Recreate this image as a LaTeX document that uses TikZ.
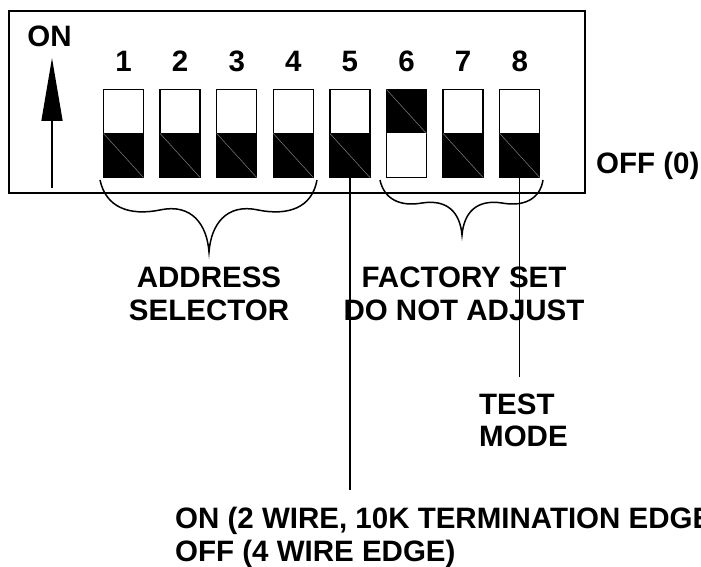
\documentclass[tikz,border=0pt]{standalone}
\usepackage{fontspec}
\setmainfont{Liberation Sans}
\usetikzlibrary{arrows.meta}
\tikzset{
  lbl/.style={font=\fontsize{29.5}{32.5}\selectfont\bfseries, inner sep=0pt},
  dip/.style={draw, line width=1.5pt, minimum width=40pt, minimum height=88pt, inner sep=0pt, outer sep=0pt},
  lever/.style={gray, line width=0.5pt},
  lead/.style={line width=1.4pt}
}
\begin{document}
\begin{tikzpicture}[x=1pt,y=-1pt]
  \useasboundingbox (0,0) rectangle (701,567);
  \node[draw, line width=2pt, minimum width=576pt, minimum height=182pt, inner sep=0pt] (board) at (297,102) {};

  \node[lbl, anchor=base] (on) at (49.5,47) {ON};
  \coordinate (arrlo) at (52,188);
  \coordinate (arrhi) at (52,58);
  \draw[line width=1.5pt, -{Triangle[length=63pt,width=21pt]}] (arrlo) -- (arrhi);

  \node[dip] (s1) at (123.5,133.5) {};
  \node[dip] (s2) at (180.1,133.5) {};
  \node[dip] (s3) at (236.7,133.5) {};
  \node[dip] (s4) at (293.3,133.5) {};
  \node[dip] (s5) at (349.9,133.5) {};
  \node[dip] (s6) at (406.5,133.5) {};
  \node[dip] (s7) at (463.1,133.5) {};
  \node[dip] (s8) at (519.7,133.5) {};

  \fill (s1.west) rectangle (s1.south east) ; \draw[lever] (s1.west) -- (s1.south east) ;
  \fill (s2.west) rectangle (s2.south east) ; \draw[lever] (s2.west) -- (s2.south east) ;
  \fill (s3.west) rectangle (s3.south east) ; \draw[lever] (s3.west) -- (s3.south east) ;
  \fill (s4.west) rectangle (s4.south east) ; \draw[lever] (s4.west) -- (s4.south east) ;
  \fill (s5.west) rectangle (s5.south east) ; \draw[lever] (s5.west) -- (s5.south east) ;
  \fill (s6.north west) rectangle (s6.east) ; \draw[lever] (s6.north west) -- (s6.east) ;
  \fill (s7.west) rectangle (s7.south east) ; \draw[lever] (s7.west) -- (s7.south east) ;
  \fill (s8.west) rectangle (s8.south east) ; \draw[lever] (s8.west) -- (s8.south east) ;

  \node[lbl, anchor=base] (n1) at (123.5,72) {1};
  \node[lbl, anchor=base] (n2) at (180.1,72) {2};
  \node[lbl, anchor=base] (n3) at (236.7,72) {3};
  \node[lbl, anchor=base] (n4) at (293.3,72) {4};
  \node[lbl, anchor=base] (n5) at (349.9,72) {5};
  \node[lbl, anchor=base] (n6) at (406.5,72) {6};
  \node[lbl, anchor=base] (n7) at (463.1,72) {7};
  \node[lbl, anchor=base] (n8) at (519.7,72) {8};

  \node[lbl, anchor=base west] (off) at (596,173) {OFF (0)};

  \draw[line width=1.5pt] (100,180) .. controls (106,208) and (130,216) .. (160,210)
    .. controls (192,203) and (207,225) .. (209,252)
    .. controls (211,225) and (226,203) .. (258,210)
    .. controls (288,216) and (312,208) .. (317,180) ;
  \draw[line width=1.5pt] (380,180) .. controls (384,199) and (400,207) .. (422,203)
    .. controls (448,199) and (460,213) .. (462,235)
    .. controls (464,213) and (476,199) .. (502,203)
    .. controls (524,207) and (540,199) .. (543,180) ;

  \node[lbl, align=center] (addr) at (209,294) {ADDRESS\\SELECTOR};
  \node[lbl, align=center] (fact) at (464,294) {FACTORY SET\\DO NOT ADJUST};

  \node[lbl, align=left, anchor=north west] (test) at (479,393.5) {TEST\\MODE};
  \node[lbl, align=left, anchor=north west] (wire) at (175,507) {ON (2 WIRE, 10K TERMINATION EDGE)\\OFF (4 WIRE EDGE)};

  \coordinate (end5) at (349.9,490);
  \coordinate (end8) at (519.7,377);
  \draw[lead] (s5.south) -- (end5) ;
  \draw[lead] (s8.south) -- (end8) ;
\end{tikzpicture}
\end{document}
